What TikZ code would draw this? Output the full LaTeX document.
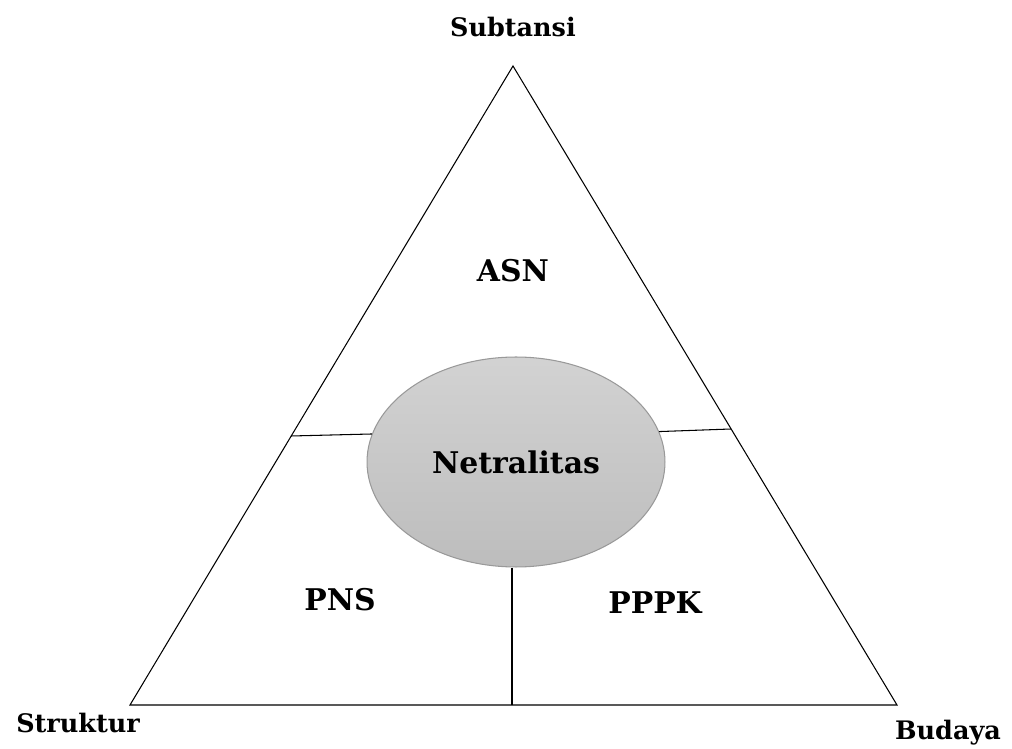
\documentclass[tikz,border=0pt]{standalone}
\usepackage{fontspec}
\setmainfont{DejaVu Serif}
\usetikzlibrary{shapes.geometric}

\tikzset{
  corner/.style={font=\bfseries\fontsize{14.5}{17}\selectfont},
  part/.style={font=\bfseries\fontsize{17}{20}\selectfont},
  core/.style={ellipse, draw=gray!80, top color=gray!35, bottom color=gray!52,
    minimum width=5.96cm, minimum height=4.2cm, inner sep=0pt},
}

\begin{document}
\begin{tikzpicture}[x=0.02cm,y=-0.02cm,line width=0.6pt]
    \useasboundingbox (0,0) rectangle (1012,749);
    \coordinate (top) at (513,66);
    \coordinate (sl) at (130,705);
    \coordinate (sr) at (897,705);
    \coordinate (ll) at (291,436);
    \coordinate (rr) at (731,429);
    \coordinate (bm) at (512,705);
    \draw (top) -- (sl) -- (sr) -- cycle;
    \node[core, part] (net) at (516,462) {Netralitas};
    \draw (ll) -- (net.169);
    \draw (net.12) -- (rr);
    \draw (bm |- net.south) -- (bm);
    \node[corner] (subtansi) at (513,27) {Subtansi};
    \node[corner] (struktur) at (78,723) {Struktur};
    \node[corner] (budaya) at (948,733) {Budaya};
    \node[part] (asn) at (513,271) {ASN};
    \node[part] (pns) at (340,600) {PNS};
    \node[part] (pppk) at (655,603) {PPPK};
  \end{tikzpicture}
\end{document}
